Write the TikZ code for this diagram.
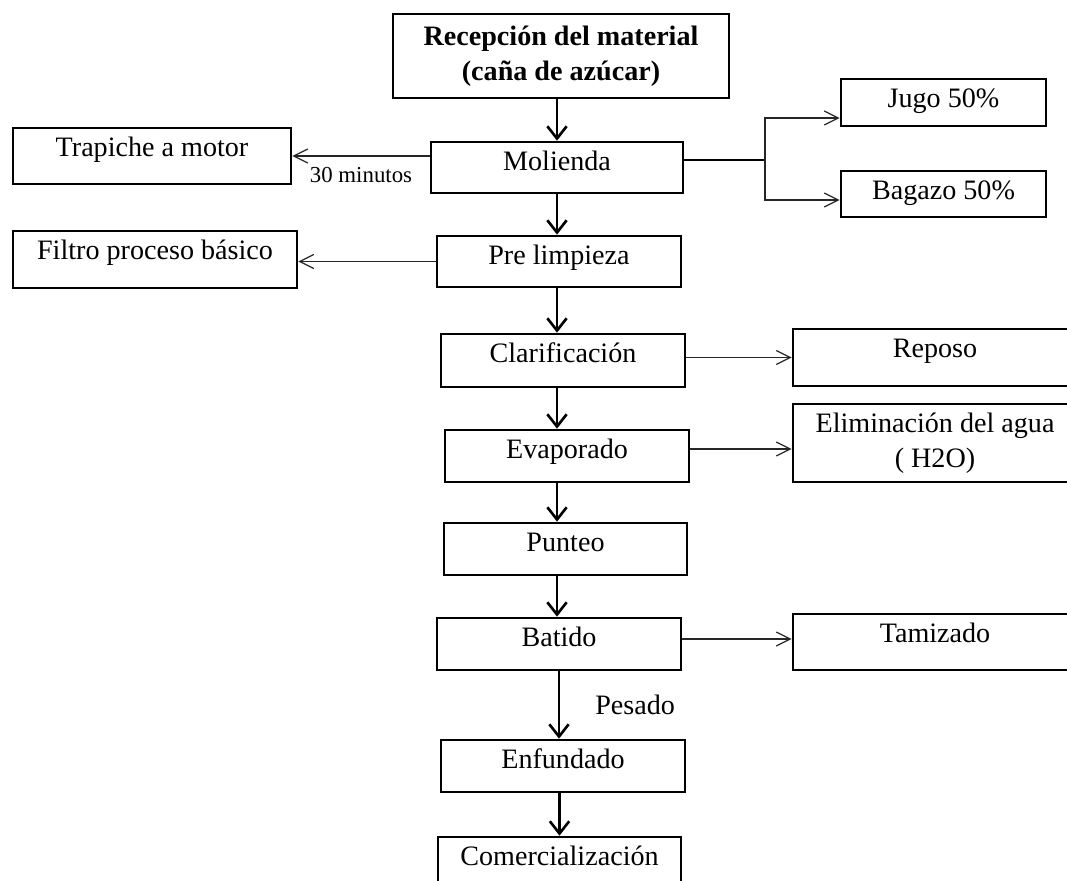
\documentclass[tikz,border=0pt]{standalone}
\usepackage{fontspec}
\setmainfont{Liberation Serif}
\usetikzlibrary{arrows.meta}
\def\px{0.02cm}
\tikzset{
  box/.style 2 args={draw, line width=1.5pt, inner sep=0pt, minimum width=#1*\px, minimum height=#2*\px},
  txt/.style={anchor=base, yshift=-0.59cm, inner sep=0pt, font=\fontsize{16}{20}\selectfont},
  flow/.style={line width=1.5pt, -{Straight Barb[length=7pt,width=11pt]}},
  side/.style={line width=0.7pt, draw=black!85, -{Straight Barb[length=8pt,width=8pt]}},
}

\begin{document}
\begin{tikzpicture}[x=0.02cm, y=-0.02cm]
			\useasboundingbox (0,0) rectangle (1067,881);
			\clip (0,0) rectangle (1067,881);
			\coordinate (axis) at (557,0);
			
			% main column
			\node[box={336}{84}, align=center, font=\fontsize{16}{20}\selectfont\bfseries] (rec) at (561,56) {Recepción del material\\(caña de azúcar)};
			\node[box={252}{51}, label={[txt]north:Molienda}] (mol) at (557,167.5) {};
			\node[box={244}{51}, label={[txt]north:Pre limpieza}] (pre) at (559,261.5) {};
			\node[box={244}{53}, label={[txt]north:Clarificación}] (cla) at (563,360.5) {};
			\node[box={244}{52}, label={[txt]north:Evaporado}] (eva) at (567,456) {};
			\node[box={243}{52}, label={[txt]north:Punteo}] (pun) at (565.5,549) {};
			\node[box={244}{52}, label={[txt]north:Batido}] (bat) at (559,644) {};
			\node[box={244}{52}, label={[txt]north:Enfundado}] (enf) at (563,766) {};
			\node[box={243}{66}, label={[txt]north:Comercialización}] (com) at (559.5,870) {};
			
			% left side
			\node[box={278}{56}, label={[txt]north:Trapiche a motor}] (trap) at (152,156) {};
			\node[box={284}{57}, label={[txt]north:Filtro proceso básico}] (fil) at (155,259.5) {};
			
			% right side
			\node[box={205}{47}, label={[txt]north:Jugo 50\%}] (jug) at (943.5,102.5) {};
			\node[box={205}{46}, label={[txt]north:Bagazo 50\%}] (bag) at (943.5,194) {};
			\node[box={284}{57}, label={[txt]north:Reposo}] (rep) at (935,357.5) {};
			\node[box={284}{78}, align=center, font=\fontsize{16}{20}\selectfont] (eli) at (935,443) {Eliminación del agua\\( H2O)};
			\node[box={284}{56}, label={[txt]north:Tamizado}] (tam) at (935,642) {};
			
			% main arrows
			\draw[flow] (rec.south -| axis) -- (mol.north -| axis);
			\draw[flow] (mol.south -| axis) -- (pre.north -| axis);
			\draw[flow] (pre.south -| axis) -- (cla.north -| axis);
			\draw[flow] (cla.south -| axis) -- (eva.north -| axis);
			\draw[flow] (eva.south -| axis) -- (pun.north -| axis);
			\draw[flow] (pun.south -| axis) -- (bat.north -| axis);
			\draw[flow] (bat.south) -- (bat.south |- enf.north)
				node[midway, anchor=west, xshift=0.7cm, inner sep=0pt, font=\fontsize{16}{20}\selectfont] (pes) {Pesado};
			\draw[flow] (enf.south -| com) -- (com.north);
			
			% side arrows
			\draw[side] (mol.west |- trap.east) -- (trap.east)
				node[midway, below, yshift=-0.1cm, font=\fontsize{13}{15}\selectfont] (min) {30 minutos};
			\draw[side] (pre.west) -- (pre.west -| fil.east);
			
			\coordinate (fork) at (765,160);
			\draw[line width=1.5pt] (mol.east |- fork) -- (fork);
			\draw[side] (fork) |- ([yshift=-0.31cm]jug.west);
			\draw[side] (fork) |- ([yshift=-0.12cm]bag.west);
			
			\draw[side] (cla.east |- rep.west) -- (rep.west);
			\draw[side] ([yshift=0.14cm]eva.east) -- ([yshift=0.14cm]eva.east -| eli.west);
			\draw[side] ([yshift=0.1cm]bat.east) -- ([yshift=0.1cm]bat.east -| tam.west);
		\end{tikzpicture}
\end{document}
